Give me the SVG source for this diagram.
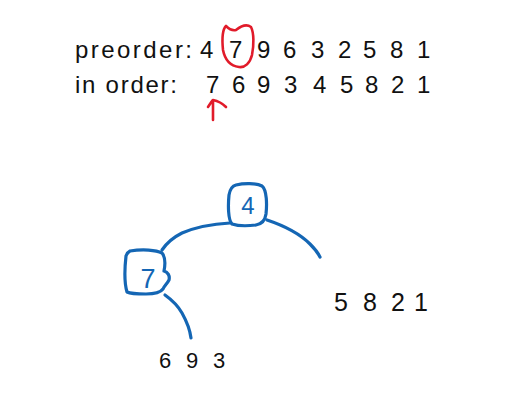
<svg xmlns="http://www.w3.org/2000/svg" width="532" height="409" viewBox="0 0 532 409">
<style>
.t{font-family:"Liberation Sans","DejaVu Sans",sans-serif;fill:#111;}
.n{font-family:"Liberation Sans","DejaVu Sans",sans-serif;fill:#1466b4;text-anchor:middle;}
.blue{fill:none;stroke:#1466b4;stroke-width:3.2;stroke-linecap:round;stroke-linejoin:round;}
.red{fill:none;stroke:#e11b2a;stroke-width:2.6;stroke-linecap:round;stroke-linejoin:round;}
</style>
<rect width="532" height="409" fill="#fff"/>
<g id="sequences">
<text class="t" x="75" y="58" font-size="24" textLength="117" lengthAdjust="spacing">preorder:</text>
<text class="t" font-size="24" y="58" x="200 229 257 283 311 338 363 390 417">479632581</text>
<text class="t" x="75" y="93" font-size="24" textLength="102" lengthAdjust="spacing">in order:</text>
<text class="t" font-size="24" y="93" x="206 232 257 284 313 340 365 391 417">769345821</text>
</g>
<g id="highlight">
<path class="red" d="M226,26 C229,29 232,31 236,30 C241,26 247,24 251,27 C254,33 254,45 252,55 C250,63 245,68 239,67 C231,66 225,60 223,50 C222,40 222,30 226,26 Z"/>
<path class="red" d="M213,120 L213,100 M208,107 C210,104 212,101 213,100 C218,101 223,104 226,107"/>
</g>
<g id="connectors">
<path class="blue" d="M230,223 C212,224 196,227 182,233 C172,238 166,244 162,250"/>
<path class="blue" d="M267,220 C285,226 300,234 310,244 C315,249 318,253 320,257"/>
<path class="blue" d="M165,295 C172,300 178,306 182,313 C187,322 190,330 191,338"/>
</g>
<g id="node-4">
<path class="blue" d="M236,185 C244,183 256,183 262,186 C267,190 267,205 266,214 C265,221 262,224 256,225 C248,226 238,226 232,224 C228,220 228,205 229,195 C230,189 232,186 236,185 Z"/>
<text class="n" x="248" y="214" font-size="24">4</text>
</g>
<g id="node-7">
<path class="blue" d="M130,251 C143,249 156,250 162,253 C166,258 165,266 164,271 C168,272 170,276 169,280 C167,284 164,286 163,289 C160,293 153,294 146,294 C138,294 131,294 127,292 C124,282 125,265 126,256 C127,253 128,252 130,251 Z"/>
<text class="n" x="148" y="288" font-size="27">7</text>
</g>
<g id="left-subtree">
<text class="t" font-size="22" y="368" x="159 186 213">693</text>
</g>
<g id="right-subtree">
<text class="t" font-size="25" y="311" x="334 363 391 414">5821</text>
</g>
</svg>
